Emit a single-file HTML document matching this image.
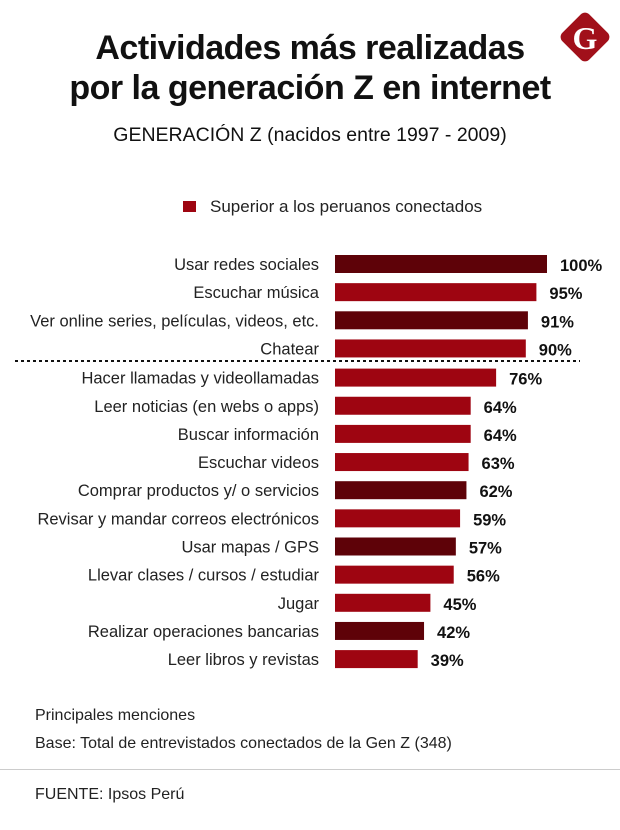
<!DOCTYPE html>
<html><head><meta charset="utf-8">
<style>
body{margin:0;width:620px;height:830px;background:#fff;font-family:"Liberation Sans",sans-serif;overflow:hidden;position:relative}
.abs{position:absolute}
h1{position:absolute;margin:0;left:0;width:620px;top:28px;text-align:center;font-size:34px;line-height:40px;font-weight:bold;color:#111;letter-spacing:-0.5px}
</style></head><body>
<h1>Actividades más realizadas<br>por la generación Z en internet</h1>
<svg class="abs" style="left:555px;top:7px" width="60" height="60">
<rect x="11" y="11" width="38" height="38" rx="6" transform="rotate(45 30 30)" fill="#a1101a"/>
<text x="30" y="42" text-anchor="middle" font-family="Liberation Serif" font-weight="bold" font-size="32" fill="#fff">G</text>
</svg>
<div class="abs" style="left:0;width:620px;top:124px;text-align:center;font-size:19.5px;color:#111">GENERACIÓN Z (nacidos entre 1997 - 2009)</div>
<div class="abs" style="left:183px;top:197px;font-size:17px;color:#222"><span style="display:inline-block;width:13px;height:11px;background:#9e0511;margin-right:14px"></span>Superior a los peruanos conectados</div>
<svg id="chart" class="abs" style="left:0;top:240px" width="620" height="440"></svg>
<div class="abs" style="left:35px;top:707px;font-size:16px;color:#222">Principales menciones</div>
<div class="abs" style="left:35px;top:735px;font-size:16px;color:#222">Base: Total de entrevistados conectados de la Gen Z (348)</div>
<div class="abs" style="left:0;width:620px;top:769px;border-top:1px solid #ccc"></div>
<div class="abs" style="left:35px;top:786px;font-size:16px;color:#222">FUENTE: Ipsos Perú</div>
<script>
const categories=["Usar redes sociales","Escuchar música","Ver online series, películas, videos, etc.","Chatear","Hacer llamadas y videollamadas","Leer noticias (en webs o apps)","Buscar información","Escuchar videos","Comprar productos y/ o servicios","Revisar y mandar correos electrónicos","Usar mapas / GPS","Llevar clases / cursos / estudiar","Jugar","Realizar operaciones bancarias","Leer libros y revistas"];
const values=[100,95,91,90,76,64,64,63,62,59,57,56,45,42,39];
const dark=[1,0,1,0,0,0,0,0,1,0,1,0,0,1,0];
const svg=document.getElementById('chart');
const NS='http://www.w3.org/2000/svg';
const x0=335, xs=v=>v*2.12;
const yc=i=>24+i*28.15+(i>=4?1:0);
categories.forEach((c,i)=>{
 const r=document.createElementNS(NS,'rect');
 r.setAttribute('x',x0);r.setAttribute('y',yc(i)-9);r.setAttribute('width',xs(values[i]));r.setAttribute('height',18);
 r.setAttribute('fill',dark[i]?'#5e0208':'#9e0511');
 
 
 svg.appendChild(r);
 const t=document.createElementNS(NS,'text');
 t.setAttribute('x',319);t.setAttribute('y',yc(i)+6);t.setAttribute('text-anchor','end');
 t.setAttribute('font-size','16.5');t.setAttribute('fill','#222');t.textContent=c;
 
 
 svg.appendChild(t);
 const v=document.createElementNS(NS,'text');
 v.setAttribute('x',x0+xs(values[i])+13);v.setAttribute('y',yc(i)+7);
 v.setAttribute('font-size','16.5');v.setAttribute('font-weight','bold');v.setAttribute('fill','#111');v.textContent=values[i]+'%';
 
 
 svg.appendChild(v);
});
const l=document.createElementNS(NS,'line');
l.setAttribute('x1',15);l.setAttribute('x2',580);l.setAttribute('y1',121);l.setAttribute('y2',121);
l.setAttribute('stroke','#111');l.setAttribute('stroke-width','2');l.setAttribute('stroke-dasharray','3 3');


svg.appendChild(l);
</script>
</body></html>
